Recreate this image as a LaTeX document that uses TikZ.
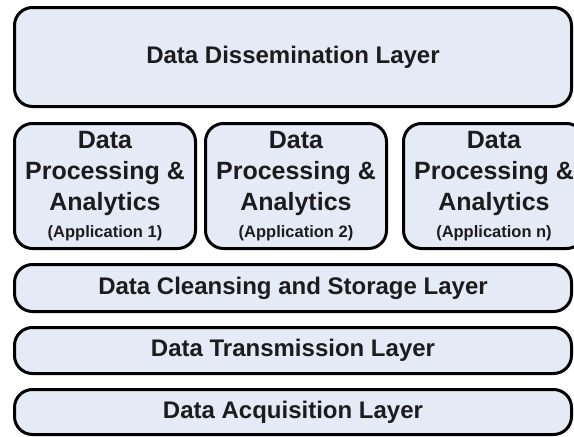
\documentclass[tikz,border=0pt]{standalone}
\usepackage{fontspec}
\setmainfont{Liberation Sans}
\definecolor{layerfill}{RGB}{229,235,246}
\definecolor{layertext}{RGB}{28,28,28}
\newcommand{\appname}[1]{Data\\Processing \&\\Analytics\\[-4pt]{\fontsize{16.5}{20}\selectfont (Application #1)}}

\begin{document}
\begin{tikzpicture}[x=1pt,y=-1pt,
    layer/.style={draw=black,line width=3pt,rounded corners=18pt,fill=layerfill,
      inner sep=0pt,text=layertext,font=\bfseries\fontsize{24}{28}\selectfont},
    app/.style={layer,minimum width=181pt,minimum height=125pt,align=center,
      font=\bfseries\fontsize{25}{31}\selectfont}]
    \useasboundingbox (0,0) rectangle (574,437);
    \node[layer,minimum width=557pt,minimum height=99pt] (dissem) at (293,57) {Data Dissemination Layer};
    \node[app] (app1) at (105,186) {\appname{1}};
    \node[app] (app2) at (296,186) {\appname{2}};
    \node[app] (appn) at (494,186) {\appname{n}};
    \node[layer,minimum width=557pt,minimum height=47pt] (cleanse) at (293,288) {Data Cleansing and Storage Layer};
    \node[layer,minimum width=557pt,minimum height=46pt] (trans) at (293,350.5) {Data Transmission Layer};
    \node[layer,minimum width=557pt,minimum height=45pt] (acq) at (293,412) {Data Acquisition Layer};
\end{tikzpicture}
\end{document}
